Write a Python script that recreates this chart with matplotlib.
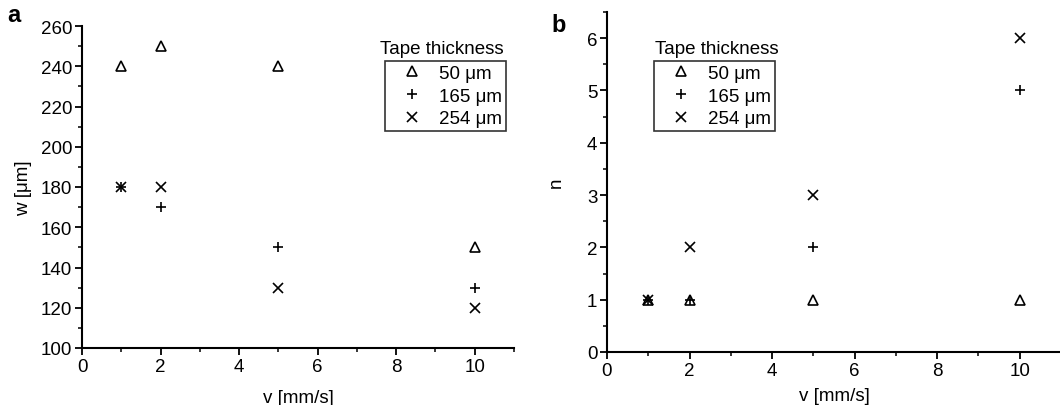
import numpy as np
import matplotlib as mpl
from matplotlib import pyplot as plt
from matplotlib.ticker import MultipleLocator

plt.rcParams['font.family'] = ['Liberation Sans', 'DejaVu Sans']

v = [1, 2, 5, 10]
labels = ["50 \u03bcm", "165 \u03bcm", "254 \u03bcm"]

w_50 = [240, 250, 240, 150]
w_165 = [180, 170, 150, 130]
w_254 = [180, 180, 130, 120]

n_50 = [1, 1, 1, 1]
n_165 = [1, 1, 2, 5]
n_254 = [1, 2, 3, 6]

markers = ['^', '+', 'x']
sizes = [6.5, 7, 7.5]
FS = 13.5


def style_axes(ax):
	ax.spines['top'].set_visible(False)
	ax.spines['right'].set_visible(False)
	ax.spines['left'].set_linewidth(1.5)
	ax.spines['bottom'].set_linewidth(1.5)
	ax.tick_params(which='major', direction='out', length=5, width=1.3, labelsize=FS, pad=2)
	ax.tick_params(which='minor', direction='out', length=3, width=1.1)
	ax.xaxis.set_major_locator(MultipleLocator(2))
	ax.xaxis.set_minor_locator(MultipleLocator(1))


def draw(ax, series, legend_box, title_xy, fig):
	handles = []
	for ys, m, s, lab in zip(series, markers, sizes, labels):
		if m == '^':
			h, = ax.plot(v, ys, linestyle='none', marker=m, markersize=s,
				markerfacecolor='none', markeredgecolor='black', markeredgewidth=1.2, label=lab, clip_on=False)
		else:
			h, = ax.plot(v, ys, linestyle='none', marker=m, markersize=s,
				color='black', markeredgewidth=1.2, label=lab, clip_on=False)
		handles.append(h)
	leg = ax.legend(handles=handles, loc='upper left', bbox_to_anchor=legend_box,
		bbox_transform=fig.transFigure, frameon=True, fancybox=False, fontsize=FS,
		handlelength=2.5, handletextpad=0.2, borderpad=0.2, labelspacing=0.3,
		borderaxespad=0, edgecolor='black')
	leg.get_frame().set_linewidth(1.2)
	fig.text(title_xy[0], title_xy[1], "Tape thickness", ha='center', va='center', fontsize=FS)


fig = plt.figure(figsize=(10.6, 4.06), dpi=100)
W, H = 1060.0, 406.0

ax = fig.add_axes([82 / W, 1 - 349 / H, (514 - 82) / W, (349 - 27) / H])
style_axes(ax)
ax.set_xlim(0, 11)
ax.set_ylim(100, 260)
ax.yaxis.set_major_locator(MultipleLocator(20))
ax.yaxis.set_minor_locator(MultipleLocator(10))
draw(ax, [w_50, w_165, w_254], (385 / W, 1 - 62 / H), (442 / W, 1 - 50 / H), fig)
ax.set_xlabel("v [mm/s]", fontsize=FS, labelpad=10)
ax.set_ylabel("w [\u03bcm]", fontsize=FS, labelpad=6)
fig.text(14 / W, 1 - 15 / H, "a", fontsize=17, fontweight='bold', ha='center', va='center')

bx = fig.add_axes([607 / W, 1 - 353 / H, (1061 - 607) / W, (353 - 13) / H])
style_axes(bx)
bx.set_xlim(0, 11)
bx.set_ylim(0, 6.5)
bx.yaxis.set_major_locator(MultipleLocator(1))
bx.yaxis.set_minor_locator(MultipleLocator(0.5))
draw(bx, [n_50, n_165, n_254], (654 / W, 1 - 62 / H), (717 / W, 1 - 50 / H), fig)
bx.set_xlabel("v [mm/s]", fontsize=FS, labelpad=6)
bx.set_ylabel("n", fontsize=FS, labelpad=16)
fig.text(559 / W, 1 - 25 / H, "b", fontsize=17, fontweight='bold', ha='center', va='center')

fig.savefig('out.png', dpi=100)
